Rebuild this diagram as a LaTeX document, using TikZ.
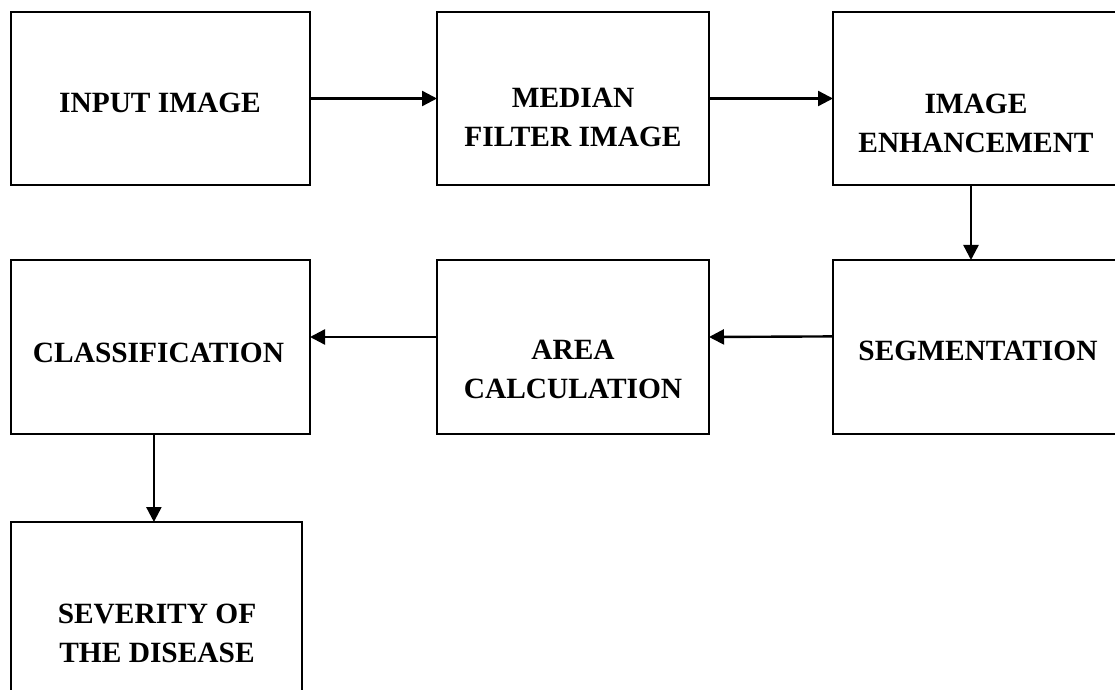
\documentclass[tikz,border=0pt]{standalone}
\usepackage{fontspec}
\setmainfont{Liberation Serif}
\usetikzlibrary{arrows.meta}
\begin{document}
\begin{tikzpicture}[x=0.5pt,y=-0.5pt,
  box/.style={draw=black,line width=1pt,inner sep=0pt,outer sep=0pt,rectangle},
  lbl/.style={font=\bfseries\fontsize{14.7pt}{19.5pt}\selectfont,align=center,inner sep=0pt,anchor=base},
  arr/.style={line width=1.2pt,-{Triangle[length=7.5pt,width=7.5pt]}}]
\useasboundingbox (0,0) rectangle (1115,690);
\clip (0,0) rectangle (1115,690);
% boxes
\node[box,minimum width=149.5pt,minimum height=86.5pt] (in)   at (160.5,98.5) {};
\node[box,minimum width=136pt,minimum height=86.5pt]   (med)  at (573,98.5) {};
\node[box,minimum width=143pt,minimum height=86.5pt]   (enh)  at (976,98.5) {};
\node[box,minimum width=149.5pt,minimum height=87pt]   (cls)  at (160.5,347) {};
\node[box,minimum width=136pt,minimum height=87pt]     (area) at (573,347) {};
\node[box,minimum width=143pt,minimum height=87pt]     (seg)  at (976,347) {};
\node[box,minimum width=145.5pt,minimum height=110.5pt] (sev) at (156.5,632.5) {};
% labels (base anchor = baseline of the last line)
\node[lbl] (tin)   at (160,113) {INPUT IMAGE};
\node[lbl] (tmed)  at (573,147) {MEDIAN\\FILTER IMAGE};
\node[lbl] (tenh)  at (976,153) {IMAGE\\ENHANCEMENT};
\node[lbl] (tseg)  at (978,360) {SEGMENTATION};
\node[lbl] (tarea) at (573,398) {AREA\\CALCULATION};
\node[lbl] (tcls)  at (158.5,362) {CLASSIFICATION};
\node[lbl] (tsev)  at (157,662) {SEVERITY OF\\THE DISEASE};
% connectors
\draw[arr] (in.east) -- (med.west);
\draw[arr] (med.east) -- (enh.west);
\draw[arr] ([xshift=-2.5pt]enh.south) -- ([xshift=-2.5pt]seg.north);
\draw[arr] ([yshift=5.3pt]seg.west) -- ([yshift=5pt]area.east);
\draw[arr] ([yshift=5pt]area.west) -- ([yshift=5pt]cls.east);
\draw[arr] ([xshift=-3.3pt]cls.south) -- ([xshift=-1.3pt]sev.north);
\end{tikzpicture}
\end{document}
